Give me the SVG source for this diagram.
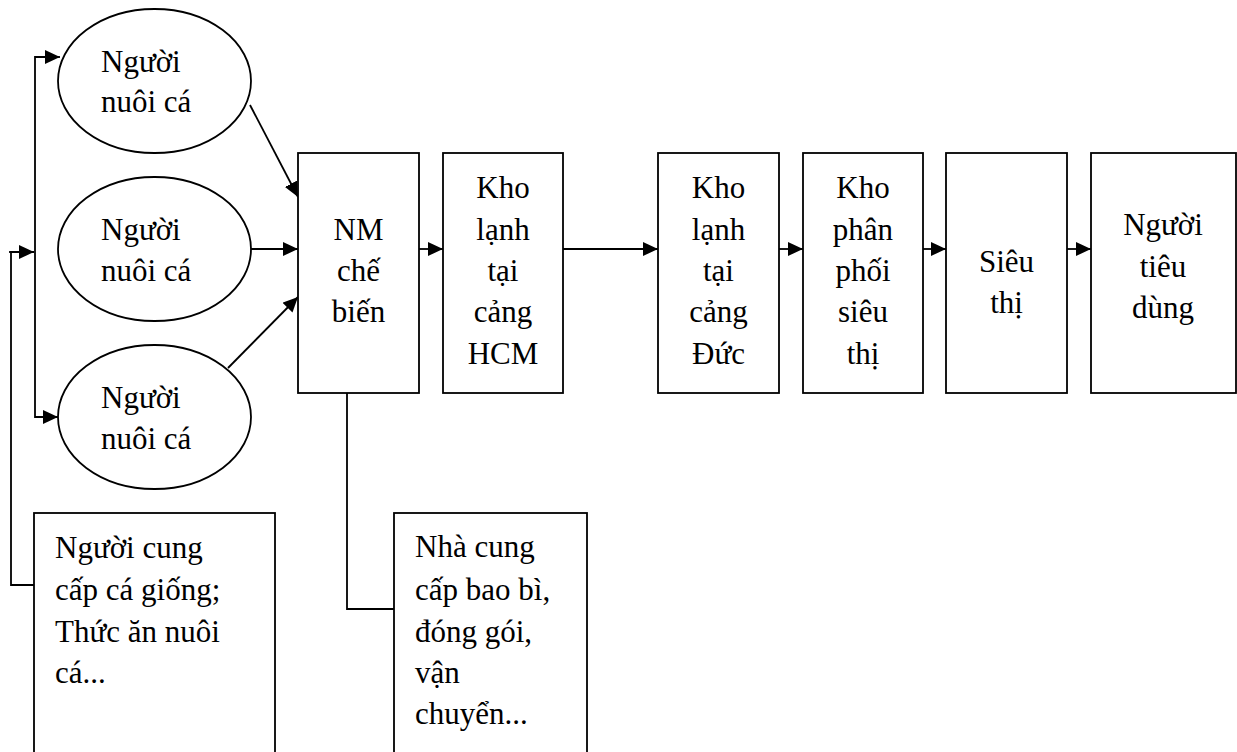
<svg xmlns="http://www.w3.org/2000/svg" width="1237" height="752" viewBox="0 0 1237 752">
<defs>
<marker id="arr" markerUnits="userSpaceOnUse" markerWidth="16" markerHeight="14" refX="15" refY="7" orient="auto">
<path d="M0,0 L15,7 L0,14 Z" fill="#000"/>
</marker>
<style>
.sh{fill:#fff;stroke:#000;stroke-width:1.8}
.ln{fill:none;stroke:#000;stroke-width:1.8}
.c{text-anchor:middle}
</style>
</defs>
<rect width="1237" height="752" fill="#fff"/>
<g id="connectors">
<polyline class="ln" points="58,57 35,57 35,417 58,417" marker-end="url(#arr)"/>
<line class="ln" x1="35" y1="57" x2="60" y2="57" marker-end="url(#arr)"/>
<polyline class="ln" points="34,585 11,585 11,252 34,252" marker-end="url(#arr)"/>
<line class="ln" x1="9" y1="252" x2="14" y2="252"/>
<line class="ln" x1="250" y1="105" x2="298" y2="197" marker-end="url(#arr)"/>
<line class="ln" x1="251" y1="249" x2="298" y2="249" marker-end="url(#arr)"/>
<line class="ln" x1="228" y1="368" x2="298" y2="297" marker-end="url(#arr)"/>
<line class="ln" x1="419" y1="249" x2="443" y2="249" marker-end="url(#arr)"/>
<line class="ln" x1="563" y1="249" x2="658" y2="249" marker-end="url(#arr)"/>
<line class="ln" x1="779" y1="249" x2="803" y2="249" marker-end="url(#arr)"/>
<line class="ln" x1="923" y1="249" x2="946" y2="249" marker-end="url(#arr)"/>
<line class="ln" x1="1067" y1="249" x2="1091" y2="249" marker-end="url(#arr)"/>
<polyline class="ln" points="347,393 347,609 394,609"/>
</g>
<g font-family="Liberation Serif, Times New Roman, serif" font-size="31" fill="#000">
<g id="nuoi1">
<ellipse class="sh" cx="154.5" cy="81" rx="96.5" ry="72"/>
<text x="101" y="72">Người</text>
<text x="101" y="112">nuôi cá</text>
</g>
<g id="nuoi2">
<ellipse class="sh" cx="154.5" cy="249" rx="96.5" ry="72"/>
<text x="101" y="240">Người</text>
<text x="101" y="281">nuôi cá</text>
</g>
<g id="nuoi3">
<ellipse class="sh" cx="154.5" cy="417" rx="96.5" ry="72"/>
<text x="101" y="408">Người</text>
<text x="101" y="449">nuôi cá</text>
</g>
<g id="cungcap">
<rect class="sh" x="34" y="513" width="241" height="250"/>
<text x="55" y="558">Người cung</text>
<text x="55" y="600">cấp cá giống;</text>
<text x="55" y="642">Thức ăn nuôi</text>
<text x="55" y="683">cá...</text>
</g>
<g id="nmchebien">
<rect class="sh" x="298" y="153" width="121" height="240"/>
<text class="c" x="358.5" y="240">NM</text>
<text class="c" x="358.5" y="281">chế</text>
<text class="c" x="358.5" y="322">biến</text>
</g>
<g id="baobi">
<rect class="sh" x="394" y="513" width="193" height="250"/>
<text x="415" y="557">Nhà cung</text>
<text x="415" y="600">cấp bao bì,</text>
<text x="415" y="642">đóng gói,</text>
<text x="415" y="683">vận</text>
<text x="415" y="724">chuyển...</text>
</g>
<g id="khohcm">
<rect class="sh" x="443" y="153" width="120" height="240"/>
<text class="c" x="503" y="198">Kho</text>
<text class="c" x="503" y="240">lạnh</text>
<text class="c" x="503" y="281">tại</text>
<text class="c" x="503" y="322">cảng</text>
<text class="c" x="503" y="364">HCM</text>
</g>
<g id="khoduc">
<rect class="sh" x="658" y="153" width="121" height="240"/>
<text class="c" x="718.5" y="198">Kho</text>
<text class="c" x="718.5" y="240">lạnh</text>
<text class="c" x="718.5" y="281">tại</text>
<text class="c" x="718.5" y="322">cảng</text>
<text class="c" x="718.5" y="364">Đức</text>
</g>
<g id="phanphoi">
<rect class="sh" x="803" y="153" width="120" height="240"/>
<text class="c" x="863" y="198">Kho</text>
<text class="c" x="863" y="240">phân</text>
<text class="c" x="863" y="281">phối</text>
<text class="c" x="863" y="322">siêu</text>
<text class="c" x="863" y="364">thị</text>
</g>
<g id="sieuthi">
<rect class="sh" x="946" y="153" width="121" height="240"/>
<text class="c" x="1006.5" y="272">Siêu</text>
<text class="c" x="1006.5" y="313">thị</text>
</g>
<g id="tieudung">
<rect class="sh" x="1091" y="153" width="145" height="240"/>
<text class="c" x="1163" y="235">Người</text>
<text class="c" x="1163" y="277">tiêu</text>
<text class="c" x="1163" y="318">dùng</text>
</g>
</g>
</svg>
